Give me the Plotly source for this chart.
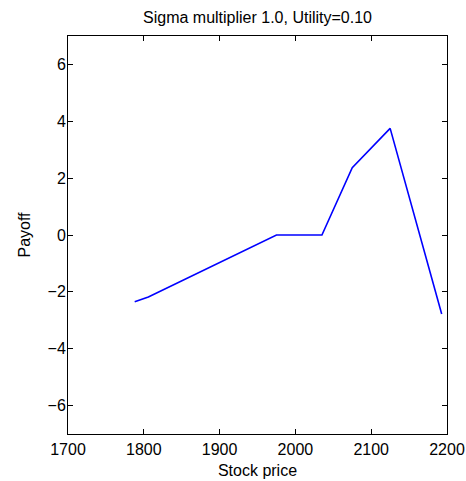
import plotly.graph_objects as go

# Payoff profile of the option strategy versus the underlying price
stock_price = [1788, 1806, 1975, 2035, 2075, 2125, 2193]
payoff = [-2.35, -2.18, 0.0, 0.0, 2.37, 3.75, -2.78]

x_ticks = [1700, 1800, 1900, 2000, 2100, 2200]
y_ticks = [-6, -4, -2, 0, 2, 4, 6]

font = dict(family="Liberation Sans, Arial, Helvetica, sans-serif", size=16, color="#000000")

fig = go.Figure()
fig.add_trace(go.Scatter(
    x=stock_price, y=payoff, mode="lines",
    line=dict(color="#0000FF", width=1.6),
    showlegend=False,
))

axis_common = dict(
    showgrid=False, zeroline=False, automargin=False,
    showline=True, linecolor="#000000", linewidth=1,
    mirror="ticks", ticks="inside", ticklen=5, tickwidth=1, tickcolor="#000000",
    tickfont=font,
)

fig.update_layout(
    width=466, height=481,
    margin=dict(l=68, r=19, t=36, b=47, autoexpand=False),
    paper_bgcolor="white", plot_bgcolor="white",
    font=font,
    title=dict(text="Sigma multiplier 1.0, Utility=0.10", x=257.5 / 466, xanchor="center",
               y=1 - 17 / 481, yanchor="middle", font=font, automargin=False),
    xaxis=dict(range=[1700, 2200], tickvals=x_ticks, ticklabelstandoff=1,
               title=dict(text="Stock price", font=font, standoff=7), **axis_common),
    yaxis=dict(range=[-7, 7], tickvals=y_ticks, ticklabelstandoff=-2,
               ticktext=[("\u2212" + str(-v)) if v < 0 else str(v) for v in y_ticks],
               title=dict(text="Payoff", font=font, standoff=12), **axis_common),
)

fig.write_html("out.html")
